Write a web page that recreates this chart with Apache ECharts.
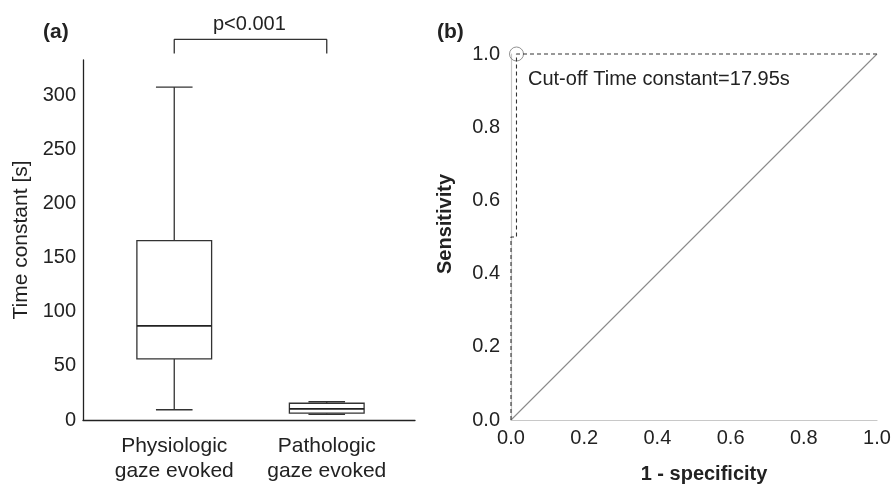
<!DOCTYPE html>
<html>
<head>
<meta charset="utf-8">
<script src="https://cdn.jsdelivr.net/npm/echarts@6/dist/echarts.min.js"></script>
<style>
html,body{margin:0;padding:0;background:#fff;}
#chart{width:893px;height:485px;}
</style>
</head>
<body>
<div id="chart"></div>
<script>
// Panel (a): box plots
var groups = ['Physiologic\ngaze evoked', 'Pathologic\ngaze evoked'];
// [min, q1, median, q3, max]
var physiologic = [9.5, 56.5, 87, 166, 308];
var pathologic = [5.3, 6.3, 10.2, 15.5, 16.9];
var yTicksA = [0, 50, 100, 150, 200, 250, 300];
var pText = 'p<0.001';
var bracket = [[0, 339], [0, 352], [1, 352], [1, 339]];

// Panel (b): ROC
var rocCurve = [[0, 0], [0, 0.5], [0.015, 0.5], [0.015, 1], [1, 1]];
var chanceLine = [[0, 0], [1, 1]];
var cutoffPoint = [[0.015, 1]];
var cutoffText = 'Cut-off Time constant=17.95s';

var font = '"Liberation Sans", Arial, Helvetica, sans-serif';
var dark = '#222';

var chart = echarts.init(document.getElementById('chart'), null, {renderer: 'canvas'});

var boxData = [[0].concat(physiologic), [1].concat(pathologic)];

function renderBox(params, api) {
  var x = api.value(0);
  var pMin = api.coord([x, api.value(1)]);
  var pQ1 = api.coord([x, api.value(2)]);
  var pMed = api.coord([x, api.value(3)]);
  var pQ3 = api.coord([x, api.value(4)]);
  var pMax = api.coord([x, api.value(5)]);
  var band = api.size([1, 0])[0];
  var bw = band * 0.49;
  var cw = band * 0.24;
  var cx = pMed[0];
  var st = {stroke: '#333', lineWidth: 1.3, fill: null};
  return {
    type: 'group',
    children: [
      {type: 'line', shape: {x1: cx, y1: pMax[1], x2: cx, y2: pQ3[1]}, style: st},
      {type: 'line', shape: {x1: cx, y1: pMin[1], x2: cx, y2: pQ1[1]}, style: st},
      {type: 'line', shape: {x1: cx - cw / 2, y1: pMax[1], x2: cx + cw / 2, y2: pMax[1]}, style: st},
      {type: 'line', shape: {x1: cx - cw / 2, y1: pMin[1], x2: cx + cw / 2, y2: pMin[1]}, style: st},
      {type: 'rect', shape: {x: cx - bw / 2, y: pQ3[1], width: bw, height: pQ1[1] - pQ3[1]}, style: {stroke: '#333', lineWidth: 1.3, fill: '#fff'}},
      {type: 'line', shape: {x1: cx - bw / 2, y1: pMed[1], x2: cx + bw / 2, y2: pMed[1]}, style: {stroke: '#222', lineWidth: 1.8}}
    ]
  };
}

var yMaxA = 333;

var option = {
  backgroundColor: '#fff',
  animation: false,
  textStyle: {fontFamily: font},
  grid: [
    {left: 83, right: 478, top: 60, bottom: 65, outerBoundsMode: 'none'},
    {left: 98, right: 490, top: 60, bottom: 65, outerBoundsMode: 'none'},
    {left: 511, right: 16, top: 54, bottom: 65, outerBoundsMode: 'none'}
  ],
  xAxis: [
    {gridIndex: 0, type: 'value', min: 0, max: 1, axisLine: {show: true, lineStyle: {color: dark, width: 1.3}},
      axisTick: {show: false}, axisLabel: {show: false}, splitLine: {show: false}},
    {gridIndex: 1, type: 'category', data: groups, boundaryGap: true, axisLine: {show: false}, axisTick: {show: false},
      splitLine: {show: false},
      axisLabel: {color: dark, fontSize: 21, lineHeight: 25, margin: 14, fontFamily: font, interval: 0}},
    {gridIndex: 2, type: 'value', min: 0, max: 1, interval: 0.2,
      axisLine: {show: true, onZero: false, lineStyle: {color: '#c8c8c8', width: 1.2}},
      axisTick: {show: false}, splitLine: {show: false},
      axisLabel: {color: dark, fontSize: 20, margin: 8, fontFamily: font, formatter: function (v) { return v.toFixed(1); }},
      name: '1 - specificity', nameLocation: 'middle', nameGap: 44,
      nameTextStyle: {color: dark, fontSize: 20, fontWeight: 'bold', fontFamily: font, padding: [0, 0, 0, 20]}}
  ],
  yAxis: [
    {gridIndex: 0, type: 'value', min: 0, max: yMaxA, interval: 50,
      axisLine: {show: true, lineStyle: {color: dark, width: 1.3}},
      axisTick: {show: false}, splitLine: {show: false},
      axisLabel: {color: dark, fontSize: 20, margin: 7, fontFamily: font, showMaxLabel: false,
        formatter: function (v) { return yTicksA.indexOf(v) >= 0 ? String(v) : ''; }},
      name: 'Time constant [s]', nameLocation: 'middle', nameGap: 51,
      nameTextStyle: {color: dark, fontSize: 21, fontFamily: font}},
    {gridIndex: 1, type: 'value', min: 0, max: yMaxA, show: false},
    {gridIndex: 2, type: 'value', min: 0, max: 1, interval: 0.2,
      axisLine: {show: true, onZero: false, lineStyle: {color: '#c8c8c8', width: 1.2}},
      axisTick: {show: false}, splitLine: {show: false},
      axisLabel: {color: dark, fontSize: 20, margin: 11, fontFamily: font, formatter: function (v) { return v.toFixed(1); }}}
  ],
  graphic: [
    {type: 'text', left: 43, top: 22, style: {text: '(a)', fontSize: 21, fontWeight: 'bold', fill: dark, fontFamily: font}},
    {type: 'text', left: 437, top: 22, style: {text: '(b)', fontSize: 21, fontWeight: 'bold', fill: dark, fontFamily: font}},
    {type: 'text', left: 213, top: 14, style: {text: pText, fontSize: 20, fill: dark, fontFamily: font}},
    {type: 'text', left: 528, top: 69, style: {text: cutoffText, fontSize: 20, fill: dark, fontFamily: font}},
    {type: 'text', x: 445, y: 224, rotation: Math.PI / 2,
      style: {text: 'Sensitivity', fontSize: 20, fontWeight: 'bold', fill: dark, fontFamily: font, align: 'center', verticalAlign: 'middle'}}
  ],
  series: [
    {type: 'custom', xAxisIndex: 1, yAxisIndex: 1, data: boxData, renderItem: renderBox, clip: false, silent: true},
    {type: 'line', xAxisIndex: 1, yAxisIndex: 1, data: bracket, clip: false, symbol: 'none',
      lineStyle: {color: '#333', width: 1.3}, silent: true},
    {type: 'line', xAxisIndex: 2, yAxisIndex: 2, data: chanceLine, symbol: 'none',
      lineStyle: {color: '#8a8a8a', width: 1.1}, silent: true},
    {type: 'line', xAxisIndex: 2, yAxisIndex: 2, data: rocCurve, symbol: 'none', clip: false,
      lineStyle: {color: '#333', width: 1.1, type: [4, 3]}, silent: true},
    {type: 'scatter', xAxisIndex: 2, yAxisIndex: 2, data: cutoffPoint, symbol: 'circle', symbolSize: 14, clip: false,
      itemStyle: {color: 'rgba(0,0,0,0)', borderColor: '#777', borderWidth: 1}, silent: true}
  ]
};

chart.setOption(option);
</script>
</body>
</html>
